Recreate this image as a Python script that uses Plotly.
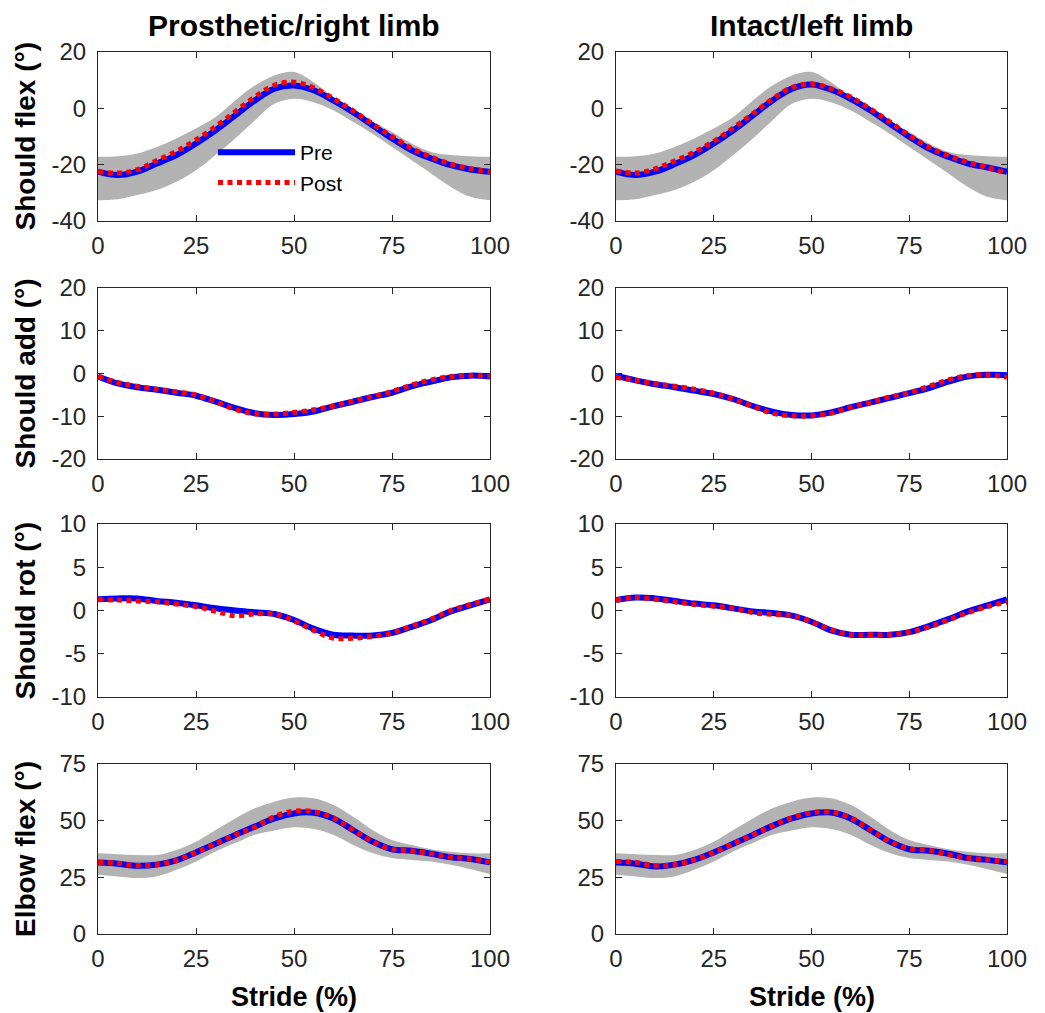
import plotly.graph_objects as go

stride = [0, 5, 10, 15, 20, 25, 30, 35, 40, 45, 50, 55, 60, 65, 70, 75, 80, 85, 90, 95, 100]

# Shoulder flexion
flex_band_upper = [-17.2, -17.0, -16.0, -13.7, -10.7, -7.2, -3.1, 2.8, 8.1, 11.7, 12.9, 9.3, 4.0, -0.7, -4.8, -8.4, -12.5, -15.5, -16.6, -17.0, -17.2]
flex_band_lower = [-32.6, -32.3, -30.8, -29.0, -26.1, -22.0, -16.6, -10.7, -4.3, 1.6, 3.4, 2.2, -0.7, -4.8, -9.0, -13.7, -18.4, -23.1, -27.9, -31.4, -32.6]
flex_right_pre = [-22.5, -23.7, -22.5, -19.6, -16.6, -12.5, -7.8, -2.5, 2.8, 7.0, 8.1, 6.4, 2.8, -1.3, -6.0, -10.7, -14.9, -17.8, -20.2, -21.7, -22.5]
flex_right_post = [-22.5, -23.0, -21.8, -18.5, -15.3, -11.2, -6.5, -1.2, 4.0, 8.2, 9.3, 7.3, 3.5, -0.8, -5.5, -10.0, -14.2, -17.3, -19.8, -21.4, -22.6]
flex_left_pre = [-22.5, -23.7, -22.5, -19.8, -16.6, -12.5, -7.8, -2.5, 2.8, 7.0, 8.5, 6.6, 3.4, -0.7, -5.4, -10.1, -14.3, -17.2, -19.6, -21.0, -22.5]
flex_left_post = [-22.2, -23.0, -21.5, -18.7, -15.6, -11.7, -7.0, -1.9, 3.3, 7.4, 8.6, 7.0, 4.0, -0.2, -4.8, -9.6, -13.8, -16.8, -19.2, -21.0, -23.0]

# Shoulder adduction
add_right_pre = [-0.7, -2.3, -3.2, -3.8, -4.5, -5.2, -6.6, -8.1, -9.3, -9.7, -9.5, -8.9, -7.7, -6.6, -5.5, -4.5, -3.0, -1.9, -0.9, -0.5, -0.7]
add_right_post = [-0.7, -2.1, -3.0, -3.7, -4.3, -5.0, -6.6, -8.4, -9.4, -9.5, -9.1, -8.5, -7.6, -6.5, -5.4, -4.2, -2.7, -1.5, -0.7, -0.5, -0.6]
add_left_pre = [-0.5, -1.6, -2.5, -3.2, -4.0, -4.8, -6.0, -7.6, -8.9, -9.7, -9.8, -9.1, -7.9, -6.8, -5.7, -4.6, -3.4, -1.9, -0.7, -0.3, -0.4]
add_left_post = [-0.9, -1.6, -2.4, -3.0, -3.7, -4.6, -6.0, -7.7, -9.3, -9.9, -9.9, -9.3, -7.9, -6.8, -5.5, -4.5, -3.0, -1.5, -0.5, -0.3, -0.9]

# Shoulder rotation
rot_right_pre = [1.3, 1.4, 1.4, 1.1, 0.9, 0.6, 0.25, 0.0, -0.2, -0.4, -1.1, -2.1, -2.8, -2.9, -2.9, -2.6, -1.9, -1.1, -0.1, 0.6, 1.3]
rot_right_post = [1.3, 1.2, 1.1, 1.0, 0.75, 0.45, -0.1, -0.6, -0.4, -0.4, -1.2, -2.3, -3.2, -3.2, -3.0, -2.6, -1.8, -1.0, 0.0, 0.7, 1.3]
rot_left_pre = [1.2, 1.5, 1.4, 1.1, 0.8, 0.6, 0.25, -0.1, -0.3, -0.6, -1.3, -2.3, -2.8, -2.8, -2.8, -2.5, -1.8, -1.0, -0.1, 0.6, 1.3]
rot_left_post = [1.2, 1.5, 1.3, 1.0, 0.7, 0.5, 0.25, -0.25, -0.45, -0.6, -1.3, -2.2, -2.8, -2.8, -2.8, -2.5, -1.9, -1.1, -0.25, 0.45, 1.0]

# Elbow flexion
elbow_band_upper = [35.6, 35.2, 34.9, 34.9, 37.1, 40.7, 45.9, 51.0, 55.5, 58.4, 60.2, 59.9, 57.0, 51.8, 45.9, 41.5, 39.3, 37.4, 36.3, 35.6, 35.6]
elbow_band_lower = [26.1, 25.4, 24.7, 25.4, 28.3, 32.0, 36.4, 40.1, 43.8, 45.7, 47.1, 46.3, 43.8, 39.4, 35.7, 33.5, 32.7, 32.0, 30.5, 28.6, 26.5]
elbow_right_pre = [31.5, 31.0, 30.1, 30.6, 32.5, 36.0, 39.8, 43.7, 47.4, 51.0, 53.2, 53.5, 51.0, 45.9, 40.8, 37.4, 36.7, 35.4, 33.9, 33.1, 31.6]
elbow_right_post = [31.7, 31.2, 30.2, 30.6, 32.5, 36.0, 39.8, 43.7, 47.1, 51.8, 54.2, 54.0, 51.2, 46.0, 40.8, 37.4, 36.7, 35.4, 33.9, 33.1, 31.7]
elbow_left_pre = [31.5, 31.0, 29.8, 30.6, 32.7, 36.0, 39.8, 43.7, 47.7, 51.0, 53.2, 53.6, 51.0, 45.9, 40.8, 37.4, 36.7, 35.4, 33.5, 32.7, 31.6]
elbow_left_post = [32.0, 31.6, 30.1, 30.6, 32.7, 36.0, 39.8, 43.7, 47.7, 51.3, 53.5, 53.8, 51.2, 46.0, 40.8, 37.6, 37.0, 35.0, 33.5, 32.7, 32.0]

column_titles = ["Prosthetic/right limb", "Intact/left limb"]
row_titles = ["Should flex (°)", "Should add (°)", "Should rot (°)", "Elbow flex (°)"]
x_ticks = [0, 25, 50, 75, 100]
y_ticks = [[-40, -20, 0, 20], [-20, -10, 0, 10, 20], [-10, -5, 0, 5, 10], [0, 25, 50, 75]]
y_ranges = [[-40, 20], [-20, 20], [-10, 10], [0, 75]]
series_labels = ["Pre", "Post"]

panels = [
    # (row, col, band_upper, band_lower, pre, post)
    (0, 0, flex_band_upper, flex_band_lower, flex_right_pre, flex_right_post),
    (0, 1, flex_band_upper, flex_band_lower, flex_left_pre, flex_left_post),
    (1, 0, None, None, add_right_pre, add_right_post),
    (1, 1, None, None, add_left_pre, add_left_post),
    (2, 0, None, None, rot_right_pre, rot_right_post),
    (2, 1, None, None, rot_left_pre, rot_left_post),
    (3, 0, elbow_band_upper, elbow_band_lower, elbow_right_pre, elbow_right_post),
    (3, 1, elbow_band_upper, elbow_band_lower, elbow_left_pre, elbow_left_post),
]

W, H = 1045, 1013
col_px = [(98, 490), (616, 1007)]
row_px = [(52, 221), (288, 459), (524, 697), (764, 934)]

FONT = "Liberation Sans, Arial, Helvetica, sans-serif"
AXC = "#262626"
BAND = "#b3b3b3"

fig = go.Figure()
layout = {}
annotations = []

for idx, (r, c, bu, bl, pre, post) in enumerate(panels):
    n = idx + 1
    xa = "x" if n == 1 else f"x{n}"
    ya = "y" if n == 1 else f"y{n}"
    first = (n == 1)
    if bu is not None:
        fig.add_trace(go.Scatter(x=stride, y=bl, xaxis=xa, yaxis=ya, mode="lines",
                                 line=dict(width=0, color=BAND, shape="spline"),
                                 showlegend=False, hoverinfo="skip"))
        fig.add_trace(go.Scatter(x=stride, y=bu, xaxis=xa, yaxis=ya, mode="lines",
                                 line=dict(width=0, color=BAND, shape="spline"),
                                 fill="tonexty", fillcolor=BAND,
                                 showlegend=False, hoverinfo="skip"))
    fig.add_trace(go.Scatter(x=stride, y=pre, xaxis=xa, yaxis=ya, mode="lines",
                             name=series_labels[0],
                             line=dict(color="#0000ff", width=6, shape="spline"),
                             showlegend=first))
    fig.add_trace(go.Scatter(x=stride, y=post, xaxis=xa, yaxis=ya, mode="lines",
                             name=series_labels[1],
                             line=dict(color="#ff0000", width=5, dash="5px,4.5px", shape="spline"),
                             showlegend=first))

    x0, x1 = col_px[c]
    y0, y1 = row_px[r]
    key_x = "xaxis" if n == 1 else f"xaxis{n}"
    key_y = "yaxis" if n == 1 else f"yaxis{n}"
    layout[key_x] = dict(
        domain=[x0 / W, x1 / W], anchor=ya, range=[0, 100], automargin=False,
        tickvals=x_ticks, ticktext=[str(v) for v in x_ticks],
        ticks="inside", ticklen=6, tickwidth=1, tickcolor=AXC,
        showline=True, linecolor=AXC, linewidth=1, mirror="ticks",
        showgrid=False, zeroline=False,
        tickfont=dict(family=FONT, size=24, color=AXC),
        ticklabelstandoff=3,
    )
    layout[key_y] = dict(
        domain=[1 - y1 / H, 1 - y0 / H], anchor=xa, range=y_ranges[r], automargin=False,
        tickvals=y_ticks[r], ticktext=[str(v) for v in y_ticks[r]],
        ticks="inside", ticklen=6, tickwidth=1, tickcolor=AXC,
        showline=True, linecolor=AXC, linewidth=1, mirror="ticks",
        showgrid=False, zeroline=False,
        tickfont=dict(family=FONT, size=24, color=AXC),
        ticklabelstandoff=6,
    )
    if c == 0:
        annotations.append(dict(
            text=row_titles[r], xref="paper", yref="paper",
            x=25 / W, y=1 - (y0 + y1) / 2 / H, textangle=-90, showarrow=False,
            xanchor="center", yanchor="middle",
            font=dict(family=FONT, size=28, color="#000000", weight="bold"),
        ))
    if r == 0:
        annotations.append(dict(
            text=column_titles[c], xref="paper", yref="paper",
            x=(x0 + x1) / 2 / W, y=1 - 25 / H, showarrow=False,
            xanchor="center", yanchor="middle",
            font=dict(family=FONT, size=30, color="#000000", weight="bold"),
        ))
    if r == 3:
        annotations.append(dict(
            text="Stride (%)", xref="paper", yref="paper",
            x=(x0 + x1) / 2 / W, y=1 - 997 / H, showarrow=False,
            xanchor="center", yanchor="middle",
            font=dict(family=FONT, size=27, color="#000000", weight="bold"),
        ))

fig.update_layout(
    width=W, height=H,
    margin=dict(l=0, r=0, t=0, b=0, autoexpand=False),
    paper_bgcolor="white", plot_bgcolor="white",
    annotations=annotations,
    showlegend=True,
    legend=dict(
        x=213 / W, y=1 - 132 / H, xanchor="left", yanchor="top",
        bgcolor="rgba(0,0,0,0)", borderwidth=0,
        font=dict(family=FONT, size=21, color="#000000"),
        itemwidth=77, tracegroupgap=0, traceorder="normal",
    ),
    **layout,
)

fig.write_html("out.html")
